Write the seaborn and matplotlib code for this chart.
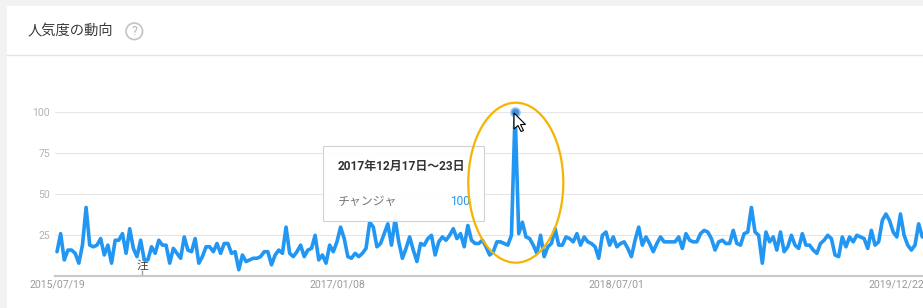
import matplotlib
matplotlib.use("Agg")
import matplotlib.pyplot as plt
import matplotlib.dates as mdates
from matplotlib.patches import Rectangle, Ellipse, Polygon
from matplotlib.lines import Line2D
import pandas as pd
import seaborn as sns

# ---------------- data ----------------
start_date = "2015-07-19"
values_2015_2016 = [15, 26, 10, 16, 16, 14, 8, 19, 42, 19,
                    18, 19, 23, 13, 19, 8, 22, 22, 26, 14,
                    29, 17, 12, 22, 10, 10, 18, 14, 22, 19,
                    19, 8, 17, 14, 11, 24, 16, 15, 23, 8,
                    12, 18, 18, 15, 20, 14, 20, 20, 14, 15,
                    4, 13, 9, 10, 11, 11, 12, 15, 15, 7,
                    13, 16, 14, 30, 14, 12, 15, 19, 12, 16,
                    17, 25, 10]
values_2016_2018 = [13, 8, 19, 15, 21, 30, 23, 12, 11, 14,
                    12, 14, 17, 33, 30, 18, 20, 26, 32, 19,
                    35, 21, 11, 17, 24, 16, 9, 20, 19, 23,
                    25, 13, 21, 24, 22, 25, 29, 23, 26, 18,
                    31, 22, 20, 20, 22, 18, 13, 15, 21, 21,
                    20, 19, 25, 100, 26, 33, 24, 23, 19, 14,
                    25, 12, 18, 20, 29, 19, 19, 24, 23, 21,
                    26, 19, 24, 21, 20, 18, 11, 25, 27, 19,
                    24, 18, 20]
values_2018_2020 = [21, 17, 12, 22, 30, 19, 24, 20, 15, 20,
                    24, 21, 21, 21, 21, 24, 17, 26, 22, 21,
                    21, 26, 28, 27, 23, 16, 21, 22, 20, 20,
                    28, 20, 19, 26, 27, 42, 27, 25, 8, 27,
                    21, 24, 16, 27, 15, 18, 25, 19, 17, 26,
                    19, 19, 16, 14, 20, 22, 25, 23, 13, 12,
                    24, 18, 24, 21, 25, 24, 23, 17, 28, 19,
                    21, 34, 38, 34, 27, 24, 38, 25, 19, 16,
                    19, 32, 24]
series_name = "チャンジャ"
tick_dates = ["2015-07-19", "2017-01-08", "2018-07-01", "2019-12-22"]
y_ticks = [25, 50, 75, 100]
title = "人気度の動向"
tooltip_date = "2017年12月17日～23日"
note_date = "2015-12-30"
note_label = "注"

values = values_2015_2016 + values_2016_2018 + values_2018_2020
dates = pd.date_range(start_date, periods=len(values), freq="7D")
df = pd.DataFrame({"week": dates, "value": values, "term": series_name})

# ---------------- style ----------------
sns.set_style("white")
plt.rcParams["font.family"] = ["Roboto", "Noto Sans CJK JP", "DejaVu Sans"]
CJK = ["Noto Sans CJK JP", "DejaVu Sans"]
MIX = ["Roboto", "Noto Sans CJK JP", "DejaVu Sans"]

W, H = 923, 308
fig = plt.figure(figsize=(W / 100, H / 100), dpi=100, facecolor="#f2f2f2")


def fx(px):
    return px / W


def fy(py):
    return 1 - py / H


# white card + divider
fig.patches.append(Rectangle((fx(7), 0), 1 - fx(7), fy(6), transform=fig.transFigure,
                             facecolor="white", edgecolor="none", zorder=-10))
fig.add_artist(Line2D([fx(7), 1], [fy(55), fy(55)], transform=fig.transFigure,
                      color="#e3e3e3", lw=0.9, zorder=-5))

# title + help icon
fig.text(fx(28), fy(31), title, fontsize=10.3, color="#3a3a3a", va="center", ha="left",
         family=CJK)
fig.patches.append(Ellipse((fx(134.3), fy(31.3)), 16.5 / W, 16.5 / H, transform=fig.transFigure,
                           fill=False, edgecolor="#c4c4c4", lw=1.2))
fig.text(fx(134.3), fy(31.3), "?", fontsize=9, color="#b5b5b5", ha="center", va="center",
         family=MIX)

# ---------------- axes ----------------
ax = fig.add_axes([fx(54.5), fy(276.3), 1 - fx(54.5), (276.3 - 112.3) / H])
ax.patch.set_alpha(0)

sns.lineplot(data=df, x="week", y="value", ax=ax, color="#2196F3", lw=2.6,
             clip_on=False, legend=False, zorder=3)

peak = df.loc[df["value"].idxmax()]
ax.scatter([peak["week"]], [peak["value"]], s=40, color="#3d8fe0", edgecolor="#8cc0f2",
           linewidth=1.2, zorder=4, clip_on=False)

d0 = mdates.date2num(dates[0])
ax.set_xlim(d0 - 0.69 * 7, d0 + 238.2 * 7)
ax.set_ylim(0, 100)
ax.set_yticks(y_ticks)
ax.set_yticklabels([str(v) for v in y_ticks])
ax.set_xticks(mdates.date2num(pd.to_datetime(tick_dates)))
ax.xaxis.set_major_formatter(mdates.DateFormatter("%Y/%m/%d"))
ax.tick_params(axis="y", length=0, pad=3.2, labelcolor="#b3b3b3", labelsize=7.6)
ax.tick_params(axis="x", length=0, pad=2.5, labelcolor="#9a9a9a", labelsize=7.6)
ax.set_xlabel("")
ax.set_ylabel("")
ax.grid(axis="y", color="#e6e6e6", lw=0.8)
ax.grid(axis="x", visible=False)
ax.set_axisbelow(True)
for s in ["top", "right", "left"]:
    ax.spines[s].set_visible(False)
ax.spines["bottom"].set_color("#c9c9c9")
ax.spines["bottom"].set_linewidth(1.6)

# note marker
nd = mdates.date2num(pd.Timestamp(note_date))
ax.vlines(nd, 0, 3.6, color="#9e9e9e", lw=1, zorder=2)
ax.text(nd, 6.6, note_label, ha="center", va="center", fontsize=8.5, color="#444444",
        family=CJK, zorder=2)

# ---------------- tooltip ----------------
fig.patches.append(Rectangle((fx(322.7), fy(220.7)), 161.3 / W, 74.7 / H,
                             transform=fig.transFigure, facecolor=(1, 1, 1, 0.93),
                             edgecolor="#d2d2d2", lw=0.8, zorder=5))
fig.text(fx(337.7), fy(166), tooltip_date, fontsize=8.6, weight="bold", color="#333333",
         va="center", ha="left", family=MIX, zorder=6)
fig.text(fx(337.7), fy(201.7), series_name, fontsize=8.6, color="#777777",
         va="center", ha="left", family=CJK, zorder=6)
fig.text(fx(469.5), fy(201.7), str(int(peak["value"])), fontsize=8.6, color="#2196F3",
         va="center", ha="right", family=MIX, zorder=6)

# highlight ellipse
fig.patches.append(Ellipse((fx(515.8), fy(182.7)), 95 / W, 160 / H, transform=fig.transFigure,
                           fill=False, edgecolor="#F4B400", lw=1.6, zorder=7))

# mouse cursor
tip_x, tip_y = 514, 113
cur = [(0, 0), (0, 16), (4, 12.5), (7, 18.5), (9.5, 17.5), (6.5, 11.5), (11.5, 11.5)]
fig.patches.append(Polygon([(fx(tip_x + a), fy(tip_y + b)) for a, b in cur], closed=True,
                           transform=fig.transFigure, facecolor="white", edgecolor="black",
                           lw=0.8, zorder=8))

fig.savefig("out.png", dpi=100, facecolor=fig.get_facecolor())
